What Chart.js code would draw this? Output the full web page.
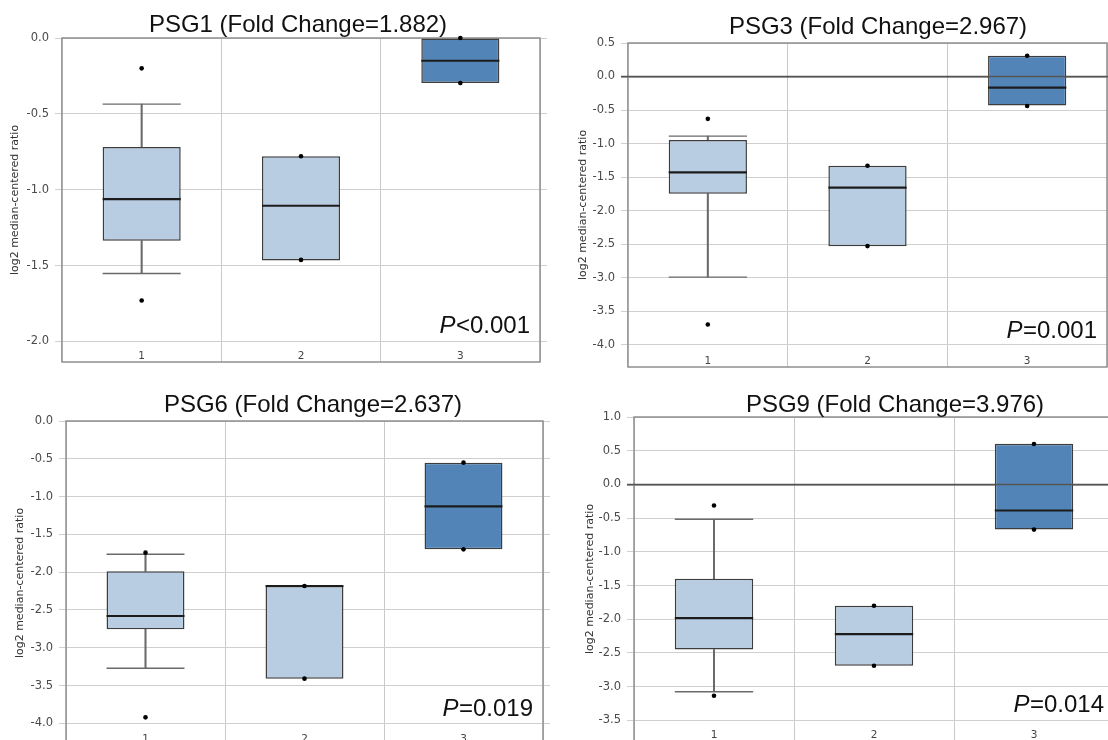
<!DOCTYPE html>
<html><head><meta charset="utf-8">
<script src="https://cdn.jsdelivr.net/npm/chart.js@4.4.1/dist/chart.umd.min.js"></script>
<style>
html,body{margin:0;padding:0;background:#fff;overflow:hidden;width:1108px;height:740px;}
#wrap{position:relative;width:1108px;height:740px;overflow:hidden;background:#fff;}
canvas{position:absolute;}
</style></head><body><div id="wrap">
<canvas id="c1"></canvas><canvas id="c2"></canvas><canvas id="c3"></canvas><canvas id="c4"></canvas>
</div>
<script>
// ---------------- DATA ----------------
const categories = ['1', '2', '3'];

// PSG1
const psg1Title = 'PSG1 (Fold Change=1.882)';
const psg1P = '<0.001';
const psg1YTicks = [0.0, -0.5, -1.0, -1.5, -2.0];
const psg1Q1 = [-1.337, -1.467, -0.297];
const psg1Median = [-1.062, -1.106, -0.150];
const psg1Q3 = [-0.718, -0.780, 0.0];
const psg1WhiskerLow = [-1.553, -1.467, -0.297];
const psg1WhiskerHigh = [-0.436, -0.780, 0.0];
const psg1Points = [[-0.200, -1.731], [-0.780, -1.463], [0.0, -0.297]];

// PSG3
const psg3Title = 'PSG3 (Fold Change=2.967)';
const psg3P = '=0.001';
const psg3YTicks = [0.5, 0.0, -0.5, -1.0, -1.5, -2.0, -2.5, -3.0, -3.5, -4.0];
const psg3Q1 = [-1.748, -2.532, -0.433];
const psg3Median = [-1.430, -1.659, -0.165];
const psg3Q3 = [-0.948, -1.332, 0.311];
const psg3WhiskerLow = [-2.993, -2.532, -0.433];
const psg3WhiskerHigh = [-0.889, -1.332, 0.311];
const psg3Points = [[-0.632, -3.70], [-1.332, -2.53], [0.31, -0.44]];

// PSG6
const psg6Title = 'PSG6 (Fold Change=2.637)';
const psg6P = '=0.019';
const psg6YTicks = [0.0, -0.5, -1.0, -1.5, -2.0, -2.5, -3.0, -3.5, -4.0];
const psg6Q1 = [-2.756, -3.409, -1.698];
const psg6Median = [-2.580, -2.183, -1.129];
const psg6Q3 = [-1.989, -2.183, -0.551];
const psg6WhiskerLow = [-3.272, -3.409, -1.698];
const psg6WhiskerHigh = [-1.764, -2.183, -0.551];
const psg6Points = [[-1.742, -3.921], [-2.183, -3.409], [-0.551, -1.698]];

// PSG9
const psg9Title = 'PSG9 (Fold Change=3.976)';
const psg9P = '=0.014';
const psg9YTicks = [1.0, 0.5, 0.0, -0.5, -1.0, -1.5, -2.0, -2.5, -3.0, -3.5];
const psg9Q1 = [-2.450, -2.689, -0.670];
const psg9Median = [-1.984, -2.222, -0.387];
const psg9Q3 = [-1.399, -1.80, 0.605];
const psg9WhiskerLow = [-3.075, -2.689, -0.670];
const psg9WhiskerHigh = [-0.516, -1.80, 0.605];
const psg9Points = [[-0.312, -3.135], [-1.80, -2.69], [0.60, -0.67]];

const yAxisTitle = 'log2 median-centered ratio';

// ---------------- STYLE / LAYOUT ----------------
const LIGHT = '#b9cde2';
const DARK = '#5284b7';
const boxColors = [LIGHT, LIGHT, DARK];
const BOX_FRAC = 0.49;

const panels = [
  {id: 'c1', title: psg1Title, p: psg1P, ticks: psg1YTicks, q1: psg1Q1, med: psg1Median, q3: psg1Q3, wlo: psg1WhiskerLow, whi: psg1WhiskerHigh, pts: psg1Points,
   left: 0, top: 0, W: 554, H: 380, aL: 62, aT: 38, aW: 478, aH: 324, yMin: -2.136, zero: false, yTitleX: 15, titleX: 298, titleY: 32},
  {id: 'c2', title: psg3Title, p: psg3P, ticks: psg3YTicks, q1: psg3Q1, med: psg3Median, q3: psg3Q3, wlo: psg3WhiskerLow, whi: psg3WhiskerHigh, pts: psg3Points,
   left: 554, top: 0, W: 574, H: 380, aL: 74, aT: 43, aW: 479, aH: 324, yMin: -4.334, zero: true, yTitleX: 29, titleX: 324, titleY: 34},
  {id: 'c3', title: psg6Title, p: psg6P, ticks: psg6YTicks, q1: psg6Q1, med: psg6Median, q3: psg6Q3, wlo: psg6WhiskerLow, whi: psg6WhiskerHigh, pts: psg6Points,
   left: 0, top: 370, W: 554, H: 400, aL: 66, aT: 51, aW: 477, aH: 324, yMin: -4.287, zero: false, yTitleX: 20, titleX: 313, titleY: 42},
  {id: 'c4', title: psg9Title, p: psg9P, ticks: psg9YTicks, q1: psg9Q1, med: psg9Median, q3: psg9Q3, wlo: psg9WhiskerLow, whi: psg9WhiskerHigh, pts: psg9Points,
   left: 554, top: 370, W: 574, H: 400, aL: 80, aT: 47, aW: 480, aH: 324, yMin: -3.806, zero: true, yTitleX: 36, titleX: 341, titleY: 42}
];

const SANS = '"Liberation Sans", Arial, sans-serif';
const DEJ = '"DejaVu Sans", Verdana, sans-serif';

function boxHalf(chart) {
  const ca = chart.chartArea;
  if (!ca) return 39;
  return (ca.right - ca.left) / categories.length * BOX_FRAC / 2;
}

const framePlugin = {
  id: 'frame',
  beforeDatasetsDraw(chart) {
    const {ctx, chartArea: a} = chart;
    ctx.save();
    ctx.strokeStyle = '#8f8f8f';
    ctx.lineWidth = 1.5;
    ctx.strokeRect(a.left, a.top, a.right - a.left, a.bottom - a.top);
    ctx.restore();
  },
  afterDatasetsDraw(chart, args, opts) {
    if (!opts.zero) return;
    const {ctx, chartArea: a} = chart;
    const y = chart.scales.y.getPixelForValue(0);
    ctx.save();
    ctx.strokeStyle = '#555';
    ctx.lineWidth = 1.5;
    ctx.beginPath();
    ctx.moveTo(a.left - 7, y);
    ctx.lineTo(a.right + 7, y);
    ctx.stroke();
    ctx.restore();
  },
  afterDraw(chart, args, opts) {
    const {ctx, chartArea: a} = chart;
    const xs = chart.scales.x;
    ctx.save();
    // category labels inside frame
    ctx.fillStyle = '#444';
    ctx.font = '10.5px ' + DEJ;
    ctx.textAlign = 'center';
    ctx.textBaseline = 'alphabetic';
    chart.data.labels.forEach((lab, i) => {
      ctx.fillText(lab, xs.getPixelForTick(i), a.bottom - 3.5);
    });
    // title
    ctx.fillStyle = '#111';
    ctx.font = '24px ' + SANS;
    ctx.textAlign = 'center';
    ctx.fillText(opts.title, opts.titleX, opts.titleY);
    // P value
    ctx.textAlign = 'left';
    ctx.font = '24px ' + SANS;
    const restW = ctx.measureText(opts.p).width;
    const xr = a.right - 10;
    const yb = a.bottom - 29.5;
    ctx.fillText(opts.p, xr - restW, yb);
    ctx.font = 'italic 24px ' + SANS;
    const pW = ctx.measureText('P').width;
    ctx.fillText('P', xr - restW - pW - 0.5, yb);
    ctx.restore();
  }
};

function keepTicks(list) {
  return function (scale) {
    scale.ticks = scale.ticks.filter(t => list.some(v => Math.abs(v - t.value) < 1e-6));
  };
}

panels.forEach(pn => {
  const cv = document.getElementById(pn.id);
  cv.width = pn.W; cv.height = pn.H;
  cv.style.left = pn.left + 'px'; cv.style.top = pn.top + 'px';
  cv.style.width = pn.W + 'px'; cv.style.height = pn.H + 'px';
  const yMax = Math.max.apply(null, pn.ticks);

  const capData = [];
  categories.forEach((c, i) => {
    if (Math.abs(pn.wlo[i] - pn.q1[i]) > 1e-9) capData.push({x: c, y: pn.wlo[i]});
    if (Math.abs(pn.whi[i] - pn.q3[i]) > 1e-9) capData.push({x: c, y: pn.whi[i]});
  });
  const pointData = [];
  categories.forEach((c, i) => pn.pts[i].forEach(v => pointData.push({x: c, y: v})));

  const gridColor = ctx => (pn.zero && ctx.tick && Math.abs(ctx.tick.value) < 1e-9) ? '#555' : '#cfcfcf';
  const gridWidth = ctx => (pn.zero && ctx.tick && Math.abs(ctx.tick.value) < 1e-9) ? 1.5 : 1;

  new Chart(cv, {
    type: 'bar',
    data: {
      labels: categories,
      datasets: [
        {type: 'line', label: 'samples', data: pointData, showLine: false, pointStyle: 'circle',
         pointRadius: 2.3, pointBackgroundColor: '#000', pointBorderWidth: 0, order: 1, clip: false},
        {type: 'line', label: 'median', data: categories.map((c, i) => ({x: c, y: pn.med[i]})), showLine: false,
         pointStyle: 'line', pointRadius: ctx => boxHalf(ctx.chart), pointBorderColor: '#1c1c1c', pointBorderWidth: 2.2, order: 2, clip: false},
        {type: 'line', label: 'caps', data: capData, showLine: false,
         pointStyle: 'line', pointRadius: ctx => boxHalf(ctx.chart), pointBorderColor: '#6a6a6a', pointBorderWidth: 1.4, order: 3},
        {label: 'box', data: categories.map((c, i) => [pn.q1[i], pn.q3[i]]), backgroundColor: boxColors,
         borderColor: '#3d3d3d', borderWidth: 1.5, borderSkipped: false, grouped: false,
         barPercentage: BOX_FRAC, categoryPercentage: 1, order: 4},
        {label: 'whiskerLow', data: categories.map((c, i) => [pn.wlo[i], pn.q1[i]]), backgroundColor: '#6a6a6a',
         borderWidth: 0, barThickness: 1.4, grouped: false, order: 5},
        {label: 'whiskerHigh', data: categories.map((c, i) => [pn.q3[i], pn.whi[i]]), backgroundColor: '#6a6a6a',
         borderWidth: 0, barThickness: 1.4, grouped: false, order: 5}
      ]
    },
    options: {
      responsive: false,
      maintainAspectRatio: false,
      animation: false,
      devicePixelRatio: 1,
      events: [],
      layout: {autoPadding: false, padding: {left: 0, top: pn.aT, right: pn.W - pn.aL - pn.aW - 7, bottom: pn.H - pn.aT - pn.aH}},
      plugins: {
        legend: {display: false},
        tooltip: {enabled: false},
        title: {display: false},
        frame: {zero: pn.zero, title: pn.title, p: pn.p, titleX: pn.titleX, titleY: pn.titleY}
      },
      scales: {
        x: {
          type: 'category', offset: true,
          grid: {offset: true, color: '#c9c9c9', lineWidth: 1, drawTicks: false},
          border: {display: false},
          ticks: {display: false},
          afterFit: s => { s.height = 0; }
        },
        y: {
          type: 'linear', position: 'left', min: pn.yMin, max: yMax,
          ticks: {stepSize: 0.5, padding: 6, color: '#4a4a4a', font: {family: DEJ, size: 11.5},
                  callback: v => Number(v).toFixed(1)},
          afterBuildTicks: keepTicks(pn.ticks),
          grid: {color: gridColor, lineWidth: gridWidth, tickLength: 7},
          border: {display: false},
          title: {display: true, text: yAxisTitle, color: '#333', font: {family: DEJ, size: 11},
                  padding: {top: pn.yTitleX - 6.6, bottom: 0}},
          afterFit: s => { s.width = pn.aL; }
        },
        y2: {
          type: 'linear', position: 'right', min: pn.yMin, max: yMax,
          ticks: {display: false, stepSize: 0.5},
          afterBuildTicks: keepTicks(pn.ticks),
          grid: {drawOnChartArea: false, color: gridColor, lineWidth: gridWidth, tickLength: 7},
          border: {display: false},
          afterFit: s => { s.width = 7; }
        }
      }
    },
    plugins: [framePlugin]
  });
});
</script>
</body></html>
